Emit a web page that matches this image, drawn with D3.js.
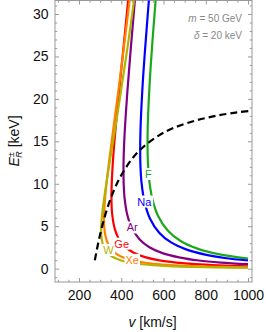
<!DOCTYPE html>
<html>
<head>
<meta charset="utf-8">
<script src="https://cdn.jsdelivr.net/npm/d3@7"></script>
<style>
  body { margin: 0; background: #fff; }
  svg { display: block; font-family: "Liberation Sans", Arial, sans-serif; }
</style>
</head>
<body>
<div id="chart"></div>
<script>
// recoil energy branches E_R^± (keV) vs v (km/s)
var fluorine = [[564,32.0],[548,26.9],[537.5,23.1],[529.5,19.5],[525.6,16.9],[524.4,14.8],[525.8,12.8],[531.3,10.7],[546.3,8.31],[573.8,6.24],[620.9,4.47],[681.1,3.26],[760.4,2.36],[860.3,1.71],[1000,1.19]];
var sodium = [[532,32.0],[511.8,25.5],[501.8,21.9],[494.4,18.5],[490.7,16.0],[489.6,14.0],[490.9,12.1],[496.1,10.1],[510,7.88],[535.7,5.92],[579.7,4.24],[635.9,3.09],[709.9,2.24],[803.2,1.62],[889.4,1.26],[1000,0.96]];
var argon = [[465.8,32.0],[444.7,25.8],[429.1,20.9],[420.8,17.9],[414.5,15.2],[411.4,13.1],[410.5,11.5],[411.6,9.91],[415.9,8.28],[427.6,6.45],[449.2,4.84],[486.1,3.47],[533.2,2.53],[595.2,1.83],[673.5,1.33],[767.3,0.96],[872.3,0.72],[1000,0.53]];
var germanium = [[434.2,32.0],[410.4,26.0],[393.4,21.8],[378.3,17.9],[365.8,14.4],[357.1,11.2],[353.6,8.5],[357,6.43],[368.3,4.78],[386.9,3.59],[418.7,2.57],[459.3,1.88],[512.7,1.36],[580.1,0.98],[660.9,0.72],[751.4,0.53],[860.3,0.39],[1000,0.28]];
var xenon = [[441.6,32.0],[410,25.6],[386.1,20.9],[364.2,16.8],[344.8,13.1],[329.3,9.8],[321.4,7.67],[318.3,5.8],[321.4,4.39],[331.6,3.26],[348.3,2.45],[376.9,1.75],[413.4,1.28],[461.5,0.93],[522.2,0.67],[594.9,0.49],[676.4,0.36],[774.4,0.27],[889.7,0.2],[1000,0.16]];
var tungsten = [[462.8,32.0],[429.3,26.0],[398.5,20.9],[369.8,16.3],[348.7,13.1],[330.2,10.2],[315.4,7.64],[307.8,5.98],[304.8,4.52],[307.8,3.42],[317.5,2.54],[333.5,1.91],[360.9,1.37],[395.9,1.0],[442,0.72],[500,0.52],[569.7,0.38],[647.7,0.28],[741.6,0.21],[852,0.15],[1000,0.11]];
// threshold (turning points) dashed curve
var threshold = [[275,0.99],[290,2.91],[310,5.04],[335,7.19],[365,9.21],[400,11.0],[450,12.9],[500,14.25],[575,15.65],[650,16.6],[750,17.44],[850,18.01],[950,18.41],[1020,18.62]];

var seriesNames = ["F", "Na", "Ar", "Ge", "Xe", "W"];
var seriesData = [fluorine, sodium, argon, germanium, xenon, tungsten];
var seriesColors = ["#1ca81c", "#0000ff", "#820082", "#ff0000", "#ff8000", "#b3b300"];
// where each element name sits (v, E)
var labelAt = [[528, 11.15], [509, 7.9], [452, 4.85], [402, 2.94], [452, 1.03], [339, 2.2]];

var xMajor = [200, 400, 600, 800, 1000];
var yMajor = [0, 5, 10, 15, 20, 25, 30];

var W = 266, H = 332;
// plot box (don't call these top/left: window.top is read-only)
var box = { l: 55, r: 252, t: 0.5, b: 282 };

var x = d3.scaleLinear().domain([86.4, 1018.9]).range([box.l, box.r]);
var y = d3.scaleLinear().domain([-1.57, 31.59]).range([box.b, box.t]);

var svg = d3.select("#chart").append("svg")
  .attr("width", W).attr("height", H);

svg.append("defs").append("clipPath").attr("id", "plot")
  .append("rect").attr("x", box.l).attr("y", box.t)
  .attr("width", box.r - box.l).attr("height", box.b - box.t);

// frame
svg.append("rect")
  .attr("x", box.l).attr("y", box.t)
  .attr("width", box.r - box.l).attr("height", box.b - box.t)
  .attr("fill", "none").attr("stroke", "#999").attr("stroke-width", 1);

var xMinor = d3.range(100, 1001, 50).filter(d => xMajor.indexOf(d) < 0);
var yMinor = d3.range(-1, 32, 1).filter(d => yMajor.indexOf(d) < 0);

function styleAxis(g) {
  g.select(".domain").remove();
  g.selectAll("line").attr("stroke", "#999");
  g.selectAll("text").attr("fill", "#111").attr("font-size", 14)
    .attr("font-family", "Liberation Sans, Arial, sans-serif");
}

// bottom
svg.append("g").attr("transform", `translate(0,${box.b})`)
  .call(d3.axisBottom(x).tickValues(xMajor).tickSize(-4).tickPadding(8).tickFormat(d3.format("d")))
  .call(styleAxis);
svg.append("g").attr("transform", `translate(0,${box.b})`)
  .call(d3.axisBottom(x).tickValues(xMinor).tickSize(-2.2).tickFormat(""))
  .call(styleAxis);
// top
svg.append("g").attr("transform", `translate(0,${box.t})`)
  .call(d3.axisTop(x).tickValues(xMajor).tickSize(-4).tickFormat(""))
  .call(styleAxis);
svg.append("g").attr("transform", `translate(0,${box.t})`)
  .call(d3.axisTop(x).tickValues(xMinor).tickSize(-2.2).tickFormat(""))
  .call(styleAxis);
// left
svg.append("g").attr("transform", `translate(${box.l},0)`)
  .call(d3.axisLeft(y).tickValues(yMajor).tickSize(-4).tickPadding(6.5))
  .call(styleAxis);
svg.append("g").attr("transform", `translate(${box.l},0)`)
  .call(d3.axisLeft(y).tickValues(yMinor).tickSize(-2.2).tickFormat(""))
  .call(styleAxis);
// right
svg.append("g").attr("transform", `translate(${box.r},0)`)
  .call(d3.axisRight(y).tickValues(yMajor).tickSize(-4).tickFormat(""))
  .call(styleAxis);
svg.append("g").attr("transform", `translate(${box.r},0)`)
  .call(d3.axisRight(y).tickValues(yMinor).tickSize(-2.2).tickFormat(""))
  .call(styleAxis);

var line = d3.line()
  .x(d => x(d[0]))
  .y(d => y(d[1]))
  .curve(d3.curveCatmullRom.alpha(0.5));

var plot = svg.append("g").attr("clip-path", "url(#plot)");

seriesData.forEach(function (s, i) {
  plot.append("path")
    .attr("d", line(s))
    .attr("fill", "none")
    .attr("stroke", seriesColors[i])
    .attr("stroke-width", 2.2);
});

plot.append("path")
  .attr("d", line(threshold))
  .attr("fill", "none")
  .attr("stroke", "#000")
  .attr("stroke-width", 2.2)
  .attr("stroke-dasharray", "7,4");

// element labels with white box behind
seriesNames.forEach(function (name, i) {
  var g = svg.append("g")
    .attr("transform", `translate(${x(labelAt[i][0])},${y(labelAt[i][1])})`);
  var t = g.append("text")
    .attr("text-anchor", "middle")
    .attr("dy", "0.36em")
    .attr("font-size", 11)
    .attr("fill", seriesColors[i])
    .text(name);
  var bb = t.node().getBBox();
  g.insert("rect", "text")
    .attr("x", bb.x - 1).attr("y", bb.y)
    .attr("width", bb.width + 2).attr("height", bb.height)
    .attr("fill", "#fff");
});

// parameters
var note = svg.append("g").attr("fill", "#888").attr("font-size", 10)
  .attr("text-anchor", "end");
var n1 = note.append("text").attr("x", 242).attr("y", 21.5);
n1.append("tspan").attr("font-style", "italic").text("m");
n1.append("tspan").text(" = 50 GeV");
var n2 = note.append("text").attr("x", 242).attr("y", 39);
n2.append("tspan").attr("font-style", "italic").text("δ");
n2.append("tspan").text(" = 20 keV");

// axis titles
var xl = svg.append("text")
  .attr("x", 152.5).attr("y", 327)
  .attr("text-anchor", "middle")
  .attr("font-size", 14).attr("fill", "#111");
xl.append("tspan").attr("font-style", "italic").text("v");
xl.append("tspan").text(" [km/s]");

var yl = svg.append("text")
  .attr("transform", "translate(19,141) rotate(-90)")
  .attr("text-anchor", "middle")
  .attr("font-size", 14).attr("fill", "#111");
yl.append("tspan").attr("font-style", "italic").text("E");
yl.append("tspan").attr("font-size", 9).attr("dy", -5).text("±");
yl.append("tspan").attr("font-size", 9).attr("font-style", "italic")
  .attr("dx", -5.5).attr("dy", 8).text("R");
yl.append("tspan").attr("dy", -3).text(" [keV]");
</script>
</body>
</html>
